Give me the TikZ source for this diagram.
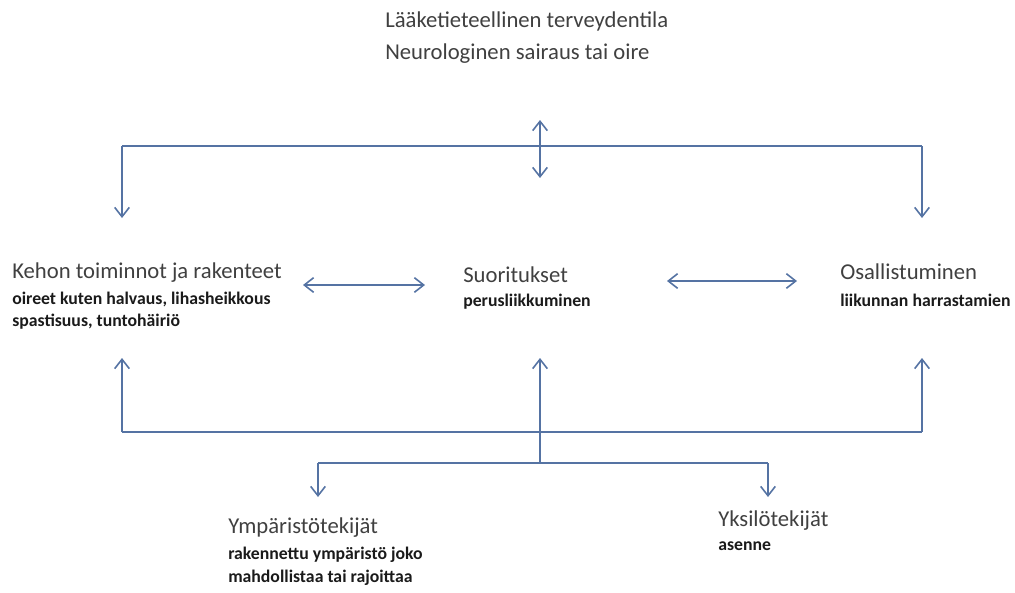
\documentclass[tikz,border=0pt]{standalone}
\usepackage{fontspec}
\setmainfont{Carlito}
\usetikzlibrary{arrows.meta}
\definecolor{ln}{HTML}{5573A3}
\definecolor{hd}{HTML}{404040}
\definecolor{sb}{HTML}{1A1A1A}
\begin{document}
\begin{tikzpicture}[x=0.75pt,y=-0.75pt,
  conn/.style={draw=ln,line width=1.7pt},
  arr/.style={conn,-{Straight Barb[length=7pt,width=11pt,line width=1.2pt]}},
  darr/.style={conn,{Straight Barb[length=7pt,width=11pt,line width=1.2pt]}-{Straight Barb[length=7pt,width=11pt,line width=1.2pt]}},
  head/.style={anchor=west,inner sep=0pt,text=hd,font=\fontsize{17}{20}\selectfont},
  sub/.style={anchor=west,inner sep=0pt,text=sb,font=\bfseries\fontsize{13.3}{15}\selectfont}]
\useasboundingbox (0,0) rectangle (1015,593);
% texts
\node[head] (t1) at (385,21) {Lääketieteellinen terveydentila};
\node[head] (t2) at (385,54) {Neurologinen sairaus tai oire};
\node[head] (k1) at (12,273) {Kehon toiminnot ja rakenteet};
\node[sub] (k2) at (12,299) {oireet kuten halvaus, lihasheikkous};
\node[sub] (k3) at (12,322) {spastisuus, tuntohäiriö};
\node[head] (s1) at (463,275) {Suoritukset};
\node[sub] (s2) at (463,302) {perusliikkuminen};
\node[head] (o1) at (840,272) {Osallistuminen};
\node[sub] (o2) at (840,300) {liikunnan harrastamien};
\node[head] (y1) at (228,528) {Ympäristötekijät};
\node[sub] (y2) at (228,555) {rakennettu ympäristö joko};
\node[sub] (y3) at (228,578) {mahdollistaa tai rajoittaa};
\node[head] (x1) at (718,521) {Yksilötekijät};
\node[sub] (x2) at (718,546) {asenne};
% top bracket
\coordinate (tl) at (122,146);
\coordinate (tr) at (922,146);
\coordinate (tld) at (122,218);
\coordinate (trd) at (922,218);
\coordinate (cu) at (540,120);
\coordinate (cd) at (540,178);
\draw[conn] (tl) -- (tr);
\draw[arr] (tl) -- (tld);
\draw[arr] (tr) -- (trd);
\draw[darr] (cu) -- (cd);
% horizontal double arrows
\coordinate (h1a) at (303,285);
\coordinate (h1b) at (425,285);
\coordinate (h2a) at (667,281);
\coordinate (h2b) at (797,281);
\draw[darr] (h1a) -- (h1b);
\draw[darr] (h2a) -- (h2b);
% bottom bracket
\coordinate (bl) at (122,432);
\coordinate (br) at (922,432);
\coordinate (blu) at (122,358);
\coordinate (bru) at (922,358);
\draw[conn] (bl) -- (br);
\draw[arr] (bl) -- (blu);
\draw[arr] (br) -- (bru);
% lower bracket
\coordinate (ll) at (318,463);
\coordinate (lr) at (768,463);
\coordinate (lc) at (540,463);
\coordinate (lcu) at (540,358);
\coordinate (lld) at (318,497);
\coordinate (lrd) at (768,497);
\draw[conn] (ll) -- (lr);
\draw[arr] (ll) -- (lld);
\draw[arr] (lr) -- (lrd);
\draw[arr] (lc) -- (lcu);
\end{tikzpicture}
\end{document}
